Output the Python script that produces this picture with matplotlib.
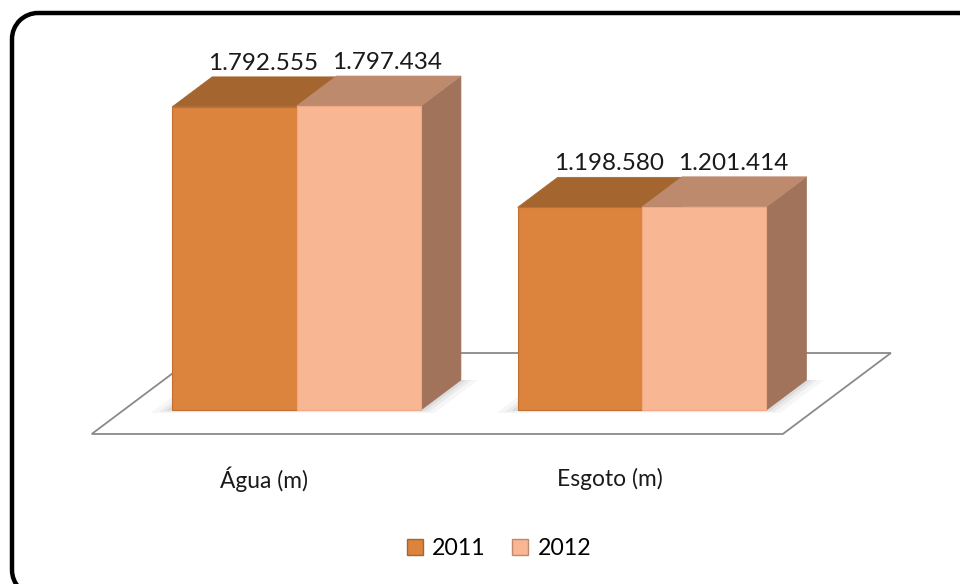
import matplotlib
matplotlib.use('Agg')
import matplotlib.pyplot as plt
from matplotlib.patches import Polygon, Arc
from matplotlib.lines import Line2D

# data
categories = ['Água (m)', 'Esgoto (m)']
years = ['2011', '2012']
values_2011 = [1792555, 1198580]
values_2012 = [1797434, 1201414]
labels_2011 = ['1.792.555', '1.198.580']
labels_2012 = ['1.797.434', '1.201.414']

# colours: front, top, side
colors_2011 = ('#DC843E', '#A5652E', '#96592A')
colors_2012 = ('#F9B692', '#BE8A6D', '#A0735A')

plt.rcParams['font.family'] = ['Lato', 'DejaVu Sans']
plt.rcParams['savefig.bbox'] = 'standard'

BAR_W = 0.36
DX = 0.1158       # depth offset in x units
DY = 177400       # depth offset in value units
FLOOR_FRONT = -0.8
FLOOR_BACK = 1.9

fig = plt.figure(figsize=(9.6, 5.84), dpi=100)
ax = fig.add_axes([0, 0, 1, 1])
ax.set_xlim(-0.858, 1.920)
ax.set_ylim(-1.029e6, 2.4245e6)
ax.axis('off')

# outer rounded frame, drawn in pixel units on an overlay axes
fax = fig.add_axes([0, 0, 1, 1], zorder=5)
fax.set_xlim(0, 960)
fax.set_ylim(0, 584)
fax.axis('off')
fax.patch.set_alpha(0)
L, R, T, B, RAD = 12, 985, 571, -12, 26
kw = dict(color='black', linewidth=3.2, solid_capstyle='butt')
fax.plot([L + RAD, R - RAD], [T, T], **kw)
fax.plot([L + RAD, R - RAD], [B, B], **kw)
fax.plot([L, L], [B + RAD, T - RAD], **kw)
fax.plot([R, R], [B + RAD, T - RAD], **kw)
for cx, cy, a0 in ((L + RAD, T - RAD, 90), (R - RAD, T - RAD, 0),
                   (L + RAD, B + RAD, 180), (R - RAD, B + RAD, 270)):
    fax.add_patch(Arc((cx, cy), 2 * RAD, 2 * RAD, theta1=a0, theta2=a0 + 90,
                      color='black', linewidth=3.2))


def depth_pt(x, y, d):
    return (x + d * DX, y + d * DY)


# floor
x0, x1 = -0.5, len(categories) - 0.5
floor = Polygon([depth_pt(x0, 0, FLOOR_FRONT), depth_pt(x1, 0, FLOOR_FRONT),
                 depth_pt(x1, 0, FLOOR_BACK), depth_pt(x0, 0, FLOOR_BACK)],
                closed=True, facecolor='white', edgecolor='#8a8a8a', linewidth=1.3, zorder=1)
ax.add_patch(floor)

pos = list(range(len(categories)))

# soft shadows under each group
for i in pos:
    gl = i - BAR_W
    gr = i + BAR_W
    for k, a in zip([0.05, 0.03, 0.015], [0.05, 0.07, 0.09]):
        sh = Polygon([depth_pt(gl - k, 0, -k * 2), depth_pt(gr + k, 0, -k * 2),
                      depth_pt(gr + k, 0, 1.0), depth_pt(gl - k, 0, 1.0)],
                     closed=True, facecolor='#505050', edgecolor='none', alpha=a, zorder=1.5)
        ax.add_patch(sh)

bars_2011 = ax.bar([p - BAR_W / 2 for p in pos], values_2011, width=BAR_W,
                   color=colors_2011[0], edgecolor='#C06F30', linewidth=0.8)
bars_2012 = ax.bar([p + BAR_W / 2 for p in pos], values_2012, width=BAR_W,
                   color=colors_2012[0], edgecolor='#EFA987', linewidth=0.8)

z = 2
for i in pos:
    for rect, cols in ((bars_2011[i], colors_2011), (bars_2012[i], colors_2012)):
        xl = rect.get_x()
        xr = xl + rect.get_width()
        h = rect.get_height()
        side = Polygon([(xr, 0), depth_pt(xr, 0, 1), depth_pt(xr, h, 1), (xr, h)],
                       closed=True, facecolor=cols[2], edgecolor=cols[2], linewidth=0.5, zorder=z)
        top = Polygon([(xl, h), (xr, h), depth_pt(xr, h, 1), depth_pt(xl, h, 1)],
                      closed=True, facecolor=cols[1], edgecolor=cols[1], linewidth=0.5, zorder=z)
        ax.add_patch(side)
        ax.add_patch(top)
        rect.set_zorder(z + 0.5)
        z += 1

# value labels
for bars, labels in ((bars_2011, labels_2011), (bars_2012, labels_2012)):
    for rect, lab in zip(bars, labels):
        cx = rect.get_x() + rect.get_width() / 2
        h = rect.get_height()
        ax.annotate(lab, xy=depth_pt(cx, h, 0.72), xytext=(0, 24), textcoords='offset pixels',
                    ha='center', va='center_baseline', fontsize=17.5, color='#1a1a1a', zorder=10)

# category labels
for i, cat in zip(pos, categories):
    ax.annotate(cat, xy=depth_pt(i, 0, FLOOR_FRONT), xytext=(0, -43), textcoords='offset pixels',
                ha='center', va='center_baseline', fontsize=16.4, color='#1a1a1a')

# legend
handles = [Line2D([], [], marker='s', linestyle='none', markersize=11,
                  markerfacecolor=colors_2011[0], markeredgecolor='#A5652E'),
           Line2D([], [], marker='s', linestyle='none', markersize=11,
                  markerfacecolor=colors_2012[0], markeredgecolor='#BE8A6D')]
fig.legend(handles, years, loc='center', bbox_to_anchor=(0.518, 0.06), ncol=2, frameon=False,
           fontsize=16.7, handletextpad=0.25, columnspacing=1.0, handlelength=1.0)

fig.savefig('out.png', dpi=100)
